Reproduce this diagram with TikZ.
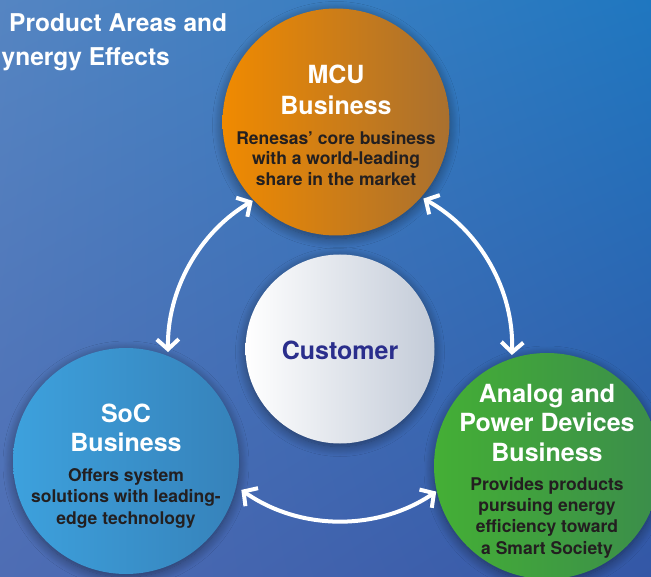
\documentclass[tikz,border=0pt]{standalone}
\usepackage{fontspec}
\setmainfont{TeX Gyre Heros}
\usetikzlibrary{arrows.meta,calc,shadows.blur,shadings}
\definecolor{bgUL}{HTML}{5585C2}
\definecolor{bgUR}{HTML}{1F77C0}
\definecolor{bgLL}{HTML}{4E6DB4}
\definecolor{bgLR}{HTML}{3457A6}
\definecolor{mcuL}{HTML}{F08A00}
\definecolor{mcuR}{HTML}{A9702F}
\definecolor{socL}{HTML}{3DA1DD}
\definecolor{socR}{HTML}{3682BA}
\definecolor{apdL}{HTML}{44AF35}
\definecolor{apdR}{HTML}{3B8D4B}
\definecolor{custR}{HTML}{C3CBD8}
\definecolor{custTxt}{HTML}{2A2E8C}
\definecolor{descTxt}{HTML}{231F20}
\tikzset{
  biz/.style={circle, draw=none, minimum size=#1, inner sep=0pt,
    blur shadow={shadow xshift=0pt, shadow yshift=-3pt, shadow blur radius=10pt,
      shadow opacity=45, shadow blur steps=14}},
  bizhead/.style={anchor=north, align=center, text=white, inner sep=0pt,
    font=\fontsize{25}{#1}\selectfont\bfseries},
  bizdesc/.style={anchor=north, align=center, text=descTxt, inner sep=0pt,
    font=\fontsize{17.5}{#1}\selectfont\bfseries},
  titletext/.style={text=white, inner sep=0pt, font=\fontsize{24.5}{30}\selectfont\bfseries},
  link/.style={draw=white, line width=4pt,
    {Straight Barb[length=10pt,width=22pt]}-{Straight Barb[length=10pt,width=22pt]}},
}
\begin{document}
\begin{tikzpicture}[x=1pt,y=-1pt]
\useasboundingbox (0,0) rectangle (651,577);
\clip (0,0) rectangle (651,577);
\shade[upper left=bgUL, upper right=bgUR, lower left=bgLL, lower right=bgLR]
  (0,0) rectangle (651,577);

% title (cut off at the left edge)
\node[titletext, anchor=base west] (ttl1) at (9,32) {Product Areas and};
\node[titletext, anchor=base east] (ttl2) at (170,66) {ynergy Effects};

% circles
\node[biz=227pt, left color=mcuL, right color=mcuR] (mcu) at (336,122) {};
\node[biz=226pt, left color=socL, right color=socR] (soc) at (126,461) {};
\node[biz=226pt, left color=apdL, right color=apdR] (apd) at (547,466) {};
\node[biz=189pt, left color=white, right color=custR] (cust) at (340,349) {};

% connectors: arcs round the customer
\coordinate (hub) at (340,349);
\coordinate (la) at ($(hub)+(179:172)$);
\coordinate (ra) at ($(hub)+(299:172)$);
\coordinate (ba) at ($(hub)+(56:172)$);
\draw[link] (la) arc[start angle=179, end angle=239.5, radius=172];
\draw[link] (ra) arc[start angle=299, end angle=362, radius=172];
\draw[link] (ba) arc[start angle=56, end angle=125, radius=172];

% texts
\node[bizhead=31] (mcuH) at (336,65) {MCU\\Business};
\node[bizdesc=20.5] (mcuD) at (336,131) {Renesas’ core business\\with a world-leading\\share in the market};
\node[bizhead=29] (socH) at (126,404) {SoC\\Business};
\node[bizdesc=21.5] (socD) at (126,468) {Offers system\\solutions with leading-\\edge technology};
\node[bizhead=29.5] (apdH) at (547,384) {Analog and\\Power Devices\\Business};
\node[bizdesc=21.3] (apdD) at (547,477) {Provides products\\pursuing energy\\efficiency toward\\a Smart Society};
\node[text=custTxt, inner sep=0pt, font=\fontsize{25}{30}\selectfont\bfseries] (custL) at (340,350) {Customer};
\end{tikzpicture}
\end{document}
